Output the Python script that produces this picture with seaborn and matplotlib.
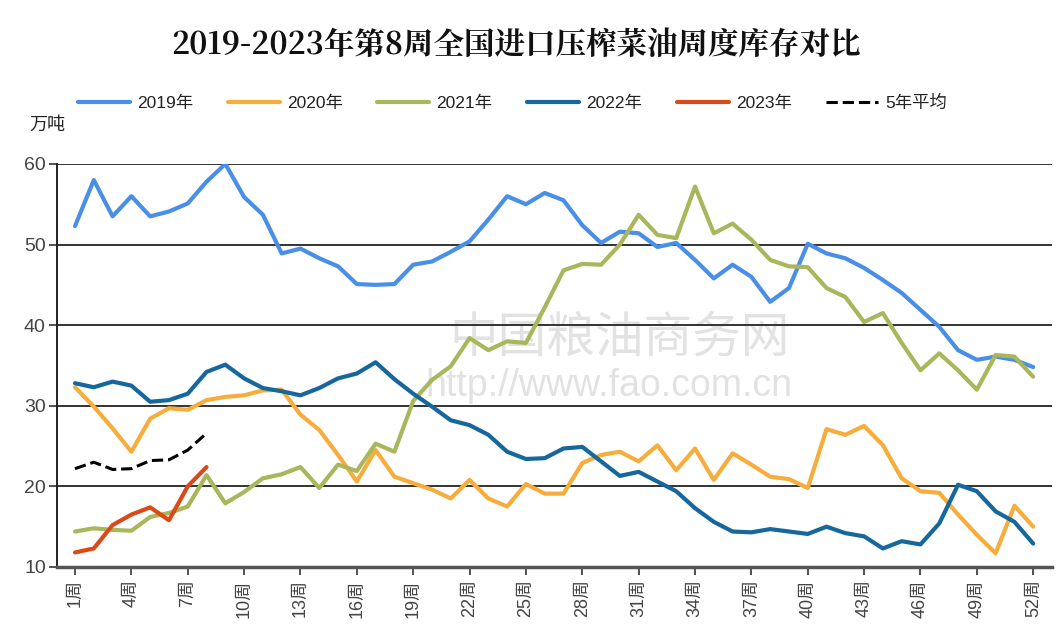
import numpy as np
import pandas as pd
import matplotlib
matplotlib.use("Agg")
import matplotlib.pyplot as plt
import seaborn as sns

weeks = list(range(1, 53))

y2019 = [52.3, 58.0, 53.5, 56.0, 53.5, 54.1, 55.1, 57.8, 60.0, 55.9,
         53.7, 48.9, 49.5, 48.3, 47.3, 45.1, 45.0, 45.1, 47.5, 47.9,
         49.1, 50.4, 53.1, 56.0, 55.0, 56.4, 55.5, 52.4, 50.2, 51.6,
         51.4, 49.7, 50.2, 48.1, 45.8, 47.5, 46.0, 42.9, 44.6, 50.1,
         48.9, 48.3, 47.1, 45.6, 44.0, 41.9, 39.8, 36.9, 35.7, 36.1,
         35.7, 34.8]
y2020 = [32.3, 29.9, 27.2, 24.3, 28.4, 29.7, 29.5, 30.7, 31.1, 31.3,
         31.9, 32.0, 28.9, 27.0, 23.9, 20.6, 24.5, 21.2, 20.4, 19.6,
         18.5, 20.8, 18.5, 17.5, 20.3, 19.1, 19.1, 22.9, 23.9, 24.3,
         23.1, 25.1, 22.0, 24.7, 20.8, 24.1, 22.7, 21.2, 20.9, 19.8,
         27.1, 26.4, 27.5, 25.1, 21.0, 19.4, 19.2, 16.5, 14.0, 11.7,
         17.6, 15.0]
y2021 = [14.4, 14.8, 14.6, 14.5, 16.2, 16.7, 17.5, 21.4, 17.9, 19.3,
         21.0, 21.5, 22.4, 19.8, 22.7, 21.9, 25.3, 24.3, 30.6, 33.2,
         34.9, 38.4, 36.9, 38.0, 37.8, 42.2, 46.8, 47.6, 47.5, 50.0,
         53.7, 51.2, 50.8, 57.2, 51.4, 52.6, 50.6, 48.1, 47.3, 47.2,
         44.6, 43.5, 40.4, 41.5, 37.8, 34.4, 36.5, 34.4, 32.0, 36.3,
         36.1, 33.6]
y2022 = [32.8, 32.3, 33.0, 32.5, 30.5, 30.7, 31.5, 34.2, 35.1, 33.4,
         32.2, 31.8, 31.3, 32.2, 33.4, 34.0, 35.4, 33.3, 31.5, 29.9,
         28.2, 27.6, 26.4, 24.3, 23.4, 23.5, 24.7, 24.9, 23.1, 21.3,
         21.8, 20.6, 19.4, 17.3, 15.6, 14.4, 14.3, 14.7, 14.4, 14.1,
         15.0, 14.2, 13.8, 12.3, 13.2, 12.8, 15.4, 20.2, 19.4, 16.9,
         15.6, 12.9]
y2023 = [11.8, 12.3, 15.2, 16.5, 17.4, 15.8, 20.0, 22.4]
avg5 = [22.2, 23.0, 22.1, 22.2, 23.2, 23.3, 24.5, 26.6]

series_names = ["2019年", "2020年", "2021年", "2022年", "2023年", "5年平均"]
series_vals = [y2019, y2020, y2021, y2022, y2023, avg5]
colors = ["#4a8fe7", "#f7ad3c", "#a9b65b", "#16679b", "#d9491a", "#000000"]
tick_weeks = list(range(1, 53, 3))
tick_labels = [f"{w}周" for w in tick_weeks]

sns.set_theme(style="white")
plt.rcParams['font.family'] = ['Liberation Sans', 'Noto Sans CJK SC', 'DejaVu Sans']

fig = plt.figure(figsize=(10.61, 6.38), dpi=100)
ax = fig.add_axes([0.0537, 0.1113, 0.9378, 0.6317])

# watermark
ax.text(0.565, 0.57, "中国粮油商务网", transform=ax.transAxes, fontsize=35,
        color="#e2e2e2", ha="center", va="center", zorder=0,
        family=['Noto Sans CJK SC'])
ax.text(0.555, 0.45, "http://www.fao.com.cn", transform=ax.transAxes, fontsize=27,
        color="#e2e2e2", ha="center", va="center", zorder=0)

for name, vals, c in zip(series_names, series_vals, colors):
    d = pd.DataFrame({"week": weeks[:len(vals)], "v": vals})
    ls = "--" if name == "5年平均" else "-"
    lw = 2.2 if name == "5年平均" else 3.0
    sns.lineplot(data=d, x="week", y="v", ax=ax, color=c, linewidth=lw,
                 linestyle=ls, label=name, zorder=3)

ax.set_xlim(0.04, 53.0)
ax.set_ylim(10, 60)
ax.set_yticks([10, 20, 30, 40, 50, 60])
ax.yaxis.grid(True, color="#333333", linewidth=1.4)
ax.set_axisbelow(True)
ax.set_xticks(tick_weeks)
ax.set_xticklabels(tick_labels, rotation=90, fontsize=13, color="#444444")
ax.tick_params(axis="y", labelsize=14, labelcolor="#444444", length=6,
               width=1.2, color="#333333", left=True, pad=2)
ax.tick_params(axis="x", length=6, width=1.2, color="#333333", bottom=True, pad=3)
ax.set_xlabel("")
ax.set_ylabel("")
for s in ["top", "right"]:
    ax.spines[s].set_visible(False)
ax.spines["left"].set_color("#222222")
ax.spines["left"].set_linewidth(1.4)
ax.spines["bottom"].set_color("#555555")
ax.spines["bottom"].set_linewidth(2.5)

leg = ax.legend(loc="center", bbox_to_anchor=(0.483, 0.839),
                bbox_transform=fig.transFigure, ncol=6, frameon=False,
                fontsize=12.5, handlelength=3.0, columnspacing=2.0,
                handletextpad=0.4)
for t in leg.get_texts():
    t.set_color("#222222")

fig.text(0.028, 0.804, "万吨", fontsize=13, color="#222222", ha="left", va="center")
fig.text(0.486, 0.928, "2019-2023年第8周全国进口压榨菜油周度库存对比", fontsize=22,
         fontweight="bold", ha="center", va="center", color="#111111",
         family=['Noto Serif CJK SC', 'Noto Sans CJK SC', 'DejaVu Sans'])

fig.savefig("out.png", dpi=100, facecolor="white")
